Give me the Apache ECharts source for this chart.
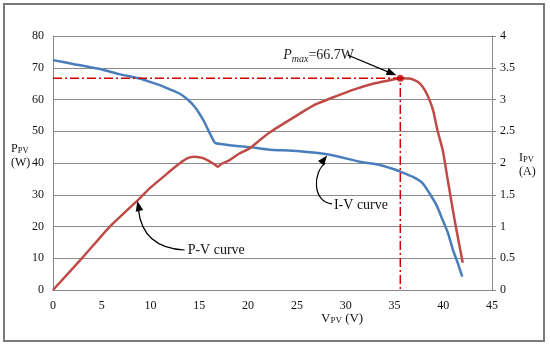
<!DOCTYPE html>
<html><head><meta charset="utf-8">
<script src="https://cdn.jsdelivr.net/npm/echarts@6/dist/echarts.min.js"></script>
<style>html,body{margin:0;padding:0;background:#fff}#c{width:550px;height:345px}</style>
</head><body><div id="c"></div>
<script>
// I-V curve (right axis, A)
const ivVoltage = [0, 2.05, 4.8, 6.8, 8.9, 9.9, 10.9, 11.95, 13.0, 13.8, 14.5, 15.0, 15.5, 16.0, 16.5, 16.7, 18.1, 20.15, 22.2, 25, 28.4, 31.45, 33.5, 34.8, 35.5, 36.9, 37.9, 38.6, 39.3, 39.95, 40.5, 41.0, 41.5, 41.95];
const ivCurrent = [3.62, 3.56, 3.48, 3.40, 3.33, 3.28, 3.23, 3.16, 3.09, 3.0, 2.89, 2.78, 2.65, 2.49, 2.34, 2.31, 2.28, 2.25, 2.21, 2.19, 2.13, 2.02, 1.97, 1.91, 1.87, 1.78, 1.68, 1.52, 1.34, 1.10, 0.89, 0.63, 0.42, 0.21];
// P-V curve (left axis, W)
const pvVoltage = [0, 3, 5.8, 9, 9.9, 10.9, 11.95, 13.0, 13.8, 14.5, 15.0, 15.5, 16.0, 16.5, 16.9, 17.25, 18.1, 19.1, 20.15, 21.2, 22.2, 24.8, 26.8, 28.9, 30.9, 33.0, 35.0, 35.6, 36.5, 37.05, 37.6, 38.1, 38.6, 39.0, 39.4, 39.95, 40.5, 41.2, 42];
const pvPower = [0, 10.1, 19.9, 29.2, 32.0, 34.6, 37.3, 39.9, 41.5, 42.0, 41.8, 41.4, 40.6, 39.7, 38.8, 39.7, 40.9, 43.0, 44.6, 47.2, 49.6, 54.6, 58.3, 60.9, 63.2, 65.1, 66.4, 66.7, 66.6, 66.1, 65.1, 63.0, 59.8, 56.2, 50.4, 44.1, 34.0, 21.5, 8.6];
// maximum power point
const pmaxVoltage = 35.6;
const pmaxPower = 66.7;
// axis ranges / ticks
const xTicks = [0, 45, 5];
const pTicks = [0, 80, 10];
const iTicks = [0, 4, 0.5];

const FONT = 'Liberation Serif';
const chart = echarts.init(document.getElementById('c'));
const axisLabelStyle = {fontFamily: FONT, fontSize: 12, color: '#111'};
chart.setOption({
  animation: false,
  grid: {left: 53, right: 58, top: 36, bottom: 55},
  xAxis: {type: 'value', min: xTicks[0], max: xTicks[1], interval: xTicks[2],
    axisLine: {show: true, lineStyle: {color: '#888', width: 1}}, axisTick: {show: false},
    splitLine: {show: false}, axisLabel: Object.assign({margin: 10}, axisLabelStyle)},
  yAxis: [
    {type: 'value', min: pTicks[0], max: pTicks[1], interval: pTicks[2],
      axisLine: {show: true, lineStyle: {color: '#888'}}, axisTick: {show: false},
      splitLine: {show: true, lineStyle: {color: '#8a8a8a', width: 1}},
      axisLabel: Object.assign({margin: 9}, axisLabelStyle)},
    {type: 'value', position: 'right', min: iTicks[0], max: iTicks[1], interval: iTicks[2],
      axisLine: {show: true, lineStyle: {color: '#888'}},
      axisTick: {show: true, length: 4, lineStyle: {color: '#888'}},
      splitLine: {show: false}, axisLabel: Object.assign({margin: 8}, axisLabelStyle)}
  ],
  series: [
    {type: 'line', name: 'I-V', yAxisIndex: 1, showSymbol: false, smooth: 0.15,
      lineStyle: {color: '#4a7ebb', width: 2.5, join: 'round'},
      data: ivVoltage.map((v, i) => [v, ivCurrent[i]])},
    {type: 'line', name: 'P-V', yAxisIndex: 0, showSymbol: false, smooth: 0.15,
      lineStyle: {color: '#be4b48', width: 2.5, join: 'round'},
      data: pvVoltage.map((v, i) => [v, pvPower[i]])},
    {type: 'line', name: 'Pmax', yAxisIndex: 0, symbol: 'none',
      lineStyle: {color: '#d00000', width: 1.5, type: [9, 3, 2, 3]},
      data: [[0, pmaxPower], [pmaxVoltage, pmaxPower], [pmaxVoltage, 0]]},
    {type: 'scatter', yAxisIndex: 0, symbol: 'circle', symbolSize: 7,
      itemStyle: {color: '#c00000'}, data: [[pmaxVoltage, pmaxPower]], z: 5}
  ]
});

function px(v, y, yi) { return chart.convertToPixel({xAxisIndex: 0, yAxisIndex: yi || 0}, [v, y]); }
function head(tip, from) {
  const dx = tip[0] - from[0], dy = tip[1] - from[1];
  const L = Math.hypot(dx, dy), ux = dx / L, uy = dy / L;
  const len = 10, w = 3.8;
  const bx = tip[0] - ux * len, by = tip[1] - uy * len;
  return {type: 'polygon', z: 20, shape: {points: [tip, [bx - uy * w, by + ux * w], [bx + uy * w, by - ux * w]]}, style: {fill: '#000'}};
}
const g = [];
g.push({type: 'rect', z: 30, shape: {x: 4, y: 4, width: 540, height: 337}, style: {fill: null, stroke: '#7a7a7a', lineWidth: 2}});
// Pmax label + arrow
const pmText = px(23.6, 74.2);
g.push({type: 'text', z: 20, x: pmText[0], y: pmText[1], style: {
  text: '{i|P}{s|max}{n|=66.7W}', verticalAlign: 'middle', align: 'left',
  rich: {i: {fontFamily: FONT, fontSize: 14, fontStyle: 'italic', fill: '#222', lineHeight: 16, verticalAlign: 'bottom'},
         s: {fontFamily: FONT, fontSize: 10, fontStyle: 'italic', fill: '#222', lineHeight: 16, verticalAlign: 'bottom', padding: [0, 0, -2, 0]},
         n: {fontFamily: FONT, fontSize: 14, fill: '#222', lineHeight: 16, verticalAlign: 'bottom'}}}});
const pa0 = px(30.2, 74.0), pa1 = px(35.2, 67.6);
g.push({type: 'line', z: 20, shape: {x1: pa0[0], y1: pa0[1], x2: pa1[0] - (pa1[0] - pa0[0]) * 0.1, y2: pa1[1] - (pa1[1] - pa0[1]) * 0.1}, style: {stroke: '#000', lineWidth: 1.2}});
g.push(head(pa1, pa0));
// I-V curve label + arrow
const ivText = px(28.8, 1.34, 1);
g.push({type: 'text', z: 20, x: ivText[0], y: ivText[1], style: {text: 'I-V curve', font: '14px "Liberation Serif"', fill: '#111', verticalAlign: 'middle'}});
const ia0 = [ivText[0] - 2, ivText[1] - 1];
const iaT = px(28.1, 2.12, 1);
const ic1 = [ia0[0] - 20, ia0[1] - 2], ic2 = [ia0[0] - 19, ia0[1] - 32];
g.push({type: 'bezierCurve', z: 20, shape: {x1: ia0[0], y1: ia0[1], cpx1: ic1[0], cpy1: ic1[1], cpx2: ic2[0], cpy2: ic2[1], x2: iaT[0] - 2, y2: iaT[1] + 8}, style: {stroke: '#000', lineWidth: 1.2, fill: null}});
g.push(head(iaT, [ic2[0] - 2, ic2[1] + 4]));
// P-V curve label + arrow
const pvText = px(13.8, 12.6);
g.push({type: 'text', z: 20, x: pvText[0], y: pvText[1], style: {text: 'P-V curve', font: '14px "Liberation Serif"', fill: '#111', verticalAlign: 'middle'}});
const pv0 = [pvText[0] - 3, pvText[1]];
const pvT = px(8.65, 28.0);
const pc = [pvT[0] + 5, pv0[1] - 2];
g.push({type: 'bezierCurve', z: 20, shape: {x1: pv0[0], y1: pv0[1], cpx1: pc[0], cpy1: pc[1], x2: pvT[0] + 1, y2: pvT[1] + 8}, style: {stroke: '#000', lineWidth: 1.2, fill: null}});
g.push(head(pvT, [pvT[0] + 3, pvT[1] + 14]));
// axis names
const sub = {fontFamily: FONT, fontSize: 8.5, fill: '#111', lineHeight: 14, verticalAlign: 'bottom'};
const main = {fontFamily: FONT, fontSize: 12, fill: '#111', lineHeight: 14, verticalAlign: 'bottom'};
g.push({type: 'text', z: 20, x: 11, y: 155, style: {text: '{m|P}{s|PV}\n{m|(W)}', verticalAlign: 'middle', rich: {m: main, s: sub}}});
g.push({type: 'text', z: 20, x: 519, y: 164, style: {text: '{m|I}{s|PV}\n{m|(A)}', verticalAlign: 'middle', rich: {m: main, s: sub}}});
g.push({type: 'text', z: 20, x: 321, y: 318, style: {text: '{m|V}{s|PV}{m| (V)}', verticalAlign: 'middle', rich: {m: {fontFamily: FONT, fontSize: 13, fill: '#111', lineHeight: 15, verticalAlign: 'bottom'}, s: {fontFamily: FONT, fontSize: 9, fill: '#111', lineHeight: 15, verticalAlign: 'bottom'}}}});
chart.setOption({graphic: g});
</script></body></html>
